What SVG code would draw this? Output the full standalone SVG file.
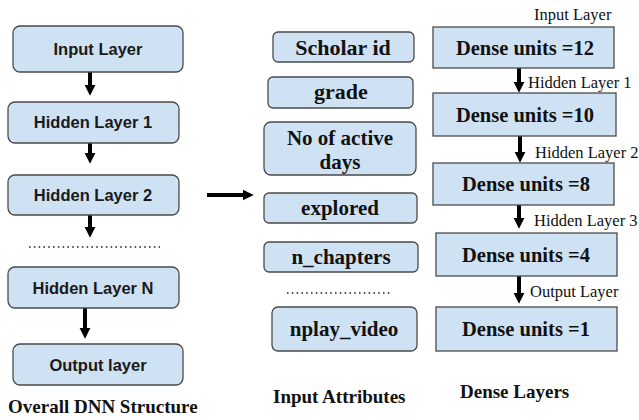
<svg xmlns="http://www.w3.org/2000/svg" width="639" height="420" viewBox="0 0 639 420">
<defs>
<style>
.box{fill:#cfe2f3;stroke:#4a4a4a;stroke-width:1.3}
.sq{fill:#cfe2f3;stroke:#4a4a4a;stroke-width:1.3}
.sans{font-family:"Liberation Sans",Arial,sans-serif;font-weight:bold;font-size:16.5px;fill:#1a1a1a;text-anchor:middle}
.serif{font-family:"Liberation Serif","Times New Roman",serif;font-weight:bold;font-size:21px;fill:#111;text-anchor:middle}
.dense{font-family:"Liberation Serif","Times New Roman",serif;font-weight:bold;font-size:20.5px;fill:#111;text-anchor:middle}
.lbl{font-family:"Liberation Serif","Times New Roman",serif;font-size:16.5px;fill:#111}
.cap{font-family:"Liberation Serif","Times New Roman",serif;font-weight:bold;font-size:19px;fill:#111}
.shaft{stroke:#000;stroke-width:4}
.dots{stroke:#222;stroke-width:1.6;stroke-dasharray:1.6 3.2}
</style>
<marker id="ah" viewBox="0 0 10 10" refX="4" refY="5" markerWidth="2.8" markerHeight="2.8" orient="auto" markerUnits="strokeWidth">
<path d="M0,0 L10,5 L0,10 z" fill="#000"/>
</marker>
</defs>
<rect width="639" height="420" fill="#fff"/>

<g id="connectors">
<line class="shaft" x1="90" y1="72" x2="90" y2="89" marker-end="url(#ah)"/>
<line class="shaft" x1="90" y1="143" x2="90" y2="157" marker-end="url(#ah)"/>
<line class="shaft" x1="90" y1="215" x2="90" y2="231" marker-end="url(#ah)"/>
<line class="shaft" x1="85" y1="308" x2="85" y2="332" marker-end="url(#ah)"/>
<line class="shaft" x1="207" y1="195" x2="247" y2="195" marker-end="url(#ah)"/>
<line class="shaft" x1="519" y1="68" x2="519" y2="86" marker-end="url(#ah)"/>
<line class="shaft" x1="520" y1="136" x2="520" y2="156" marker-end="url(#ah)"/>
<line class="shaft" x1="519" y1="205" x2="519" y2="222" marker-end="url(#ah)"/>
<line class="shaft" x1="519" y1="276" x2="519" y2="297" marker-end="url(#ah)"/>
<line class="dots" x1="29" y1="247" x2="160" y2="247"/>
<line class="dots" x1="287" y1="293" x2="392" y2="293"/>
</g>

<g id="dnn-input"><rect class="box" x="13" y="26" width="170" height="46" rx="7"/><text class="sans" x="98" y="55">Input Layer</text></g>
<g id="dnn-hidden1"><rect class="box" x="8" y="102" width="171" height="41" rx="7"/><text class="sans" x="93" y="128">Hidden Layer 1</text></g>
<g id="dnn-hidden2"><rect class="box" x="8" y="175" width="171" height="40" rx="7"/><text class="sans" x="93" y="201">Hidden Layer 2</text></g>
<g id="dnn-hiddenN"><rect class="box" x="8" y="267" width="171" height="41" rx="7"/><text class="sans" x="93" y="294">Hidden Layer N</text></g>
<g id="dnn-output"><rect class="box" x="13" y="344" width="170" height="41" rx="7"/><text class="sans" x="98" y="371">Output layer</text></g>
<text class="cap" x="8" y="413">Overall DNN Structure</text>

<g id="attr-scholar"><rect class="box" x="273" y="32" width="141" height="30" rx="5"/><text class="serif" x="343" y="55" style="font-size:22px">Scholar id</text></g>
<g id="attr-grade"><rect class="box" x="268" y="77" width="145" height="31" rx="5"/><text class="serif" x="341" y="99" style="font-size:22px">grade</text></g>
<g id="attr-days"><rect class="box" x="264" y="122" width="152" height="53" rx="7"/><text class="serif" x="340" y="145">No of active</text><text class="serif" x="340" y="169">days</text></g>
<g id="attr-explored"><rect class="box" x="264" y="193" width="153" height="30" rx="5"/><text class="serif" x="340" y="215">explored</text></g>
<g id="attr-chapters"><rect class="box" x="264" y="242" width="154" height="30" rx="5"/><text class="serif" x="341" y="264">n_chapters</text></g>
<g id="attr-nplay"><rect class="box" x="272" y="307" width="145" height="44" rx="6"/><text class="serif" x="344" y="336">nplay_video</text></g>
<text class="cap" x="273" y="403">Input Attributes</text>

<g id="dense-12"><rect class="sq" x="433" y="27" width="181" height="41"/><text class="dense" x="525" y="55">Dense units =12</text></g>
<g id="dense-10"><rect class="sq" x="433" y="93" width="183" height="43"/><text class="dense" x="525" y="122">Dense units =10</text></g>
<g id="dense-8"><rect class="sq" x="433" y="163" width="181" height="42"/><text class="dense" x="526" y="191">Dense units =8</text></g>
<g id="dense-4"><rect class="sq" x="436" y="233" width="181" height="43"/><text class="dense" x="526" y="262">Dense units =4</text></g>
<g id="dense-1"><rect class="sq" x="436" y="307" width="181" height="44"/><text class="dense" x="526" y="336">Dense units =1</text></g>
<text class="lbl" x="534" y="20">Input Layer</text>
<text class="lbl" x="528" y="88">Hidden Layer 1</text>
<text class="lbl" x="535" y="158">Hidden Layer 2</text>
<text class="lbl" x="534" y="226">Hidden Layer 3</text>
<text class="lbl" x="530" y="297">Output Layer</text>
<text class="cap" x="460" y="398">Dense Layers</text>
</svg>
